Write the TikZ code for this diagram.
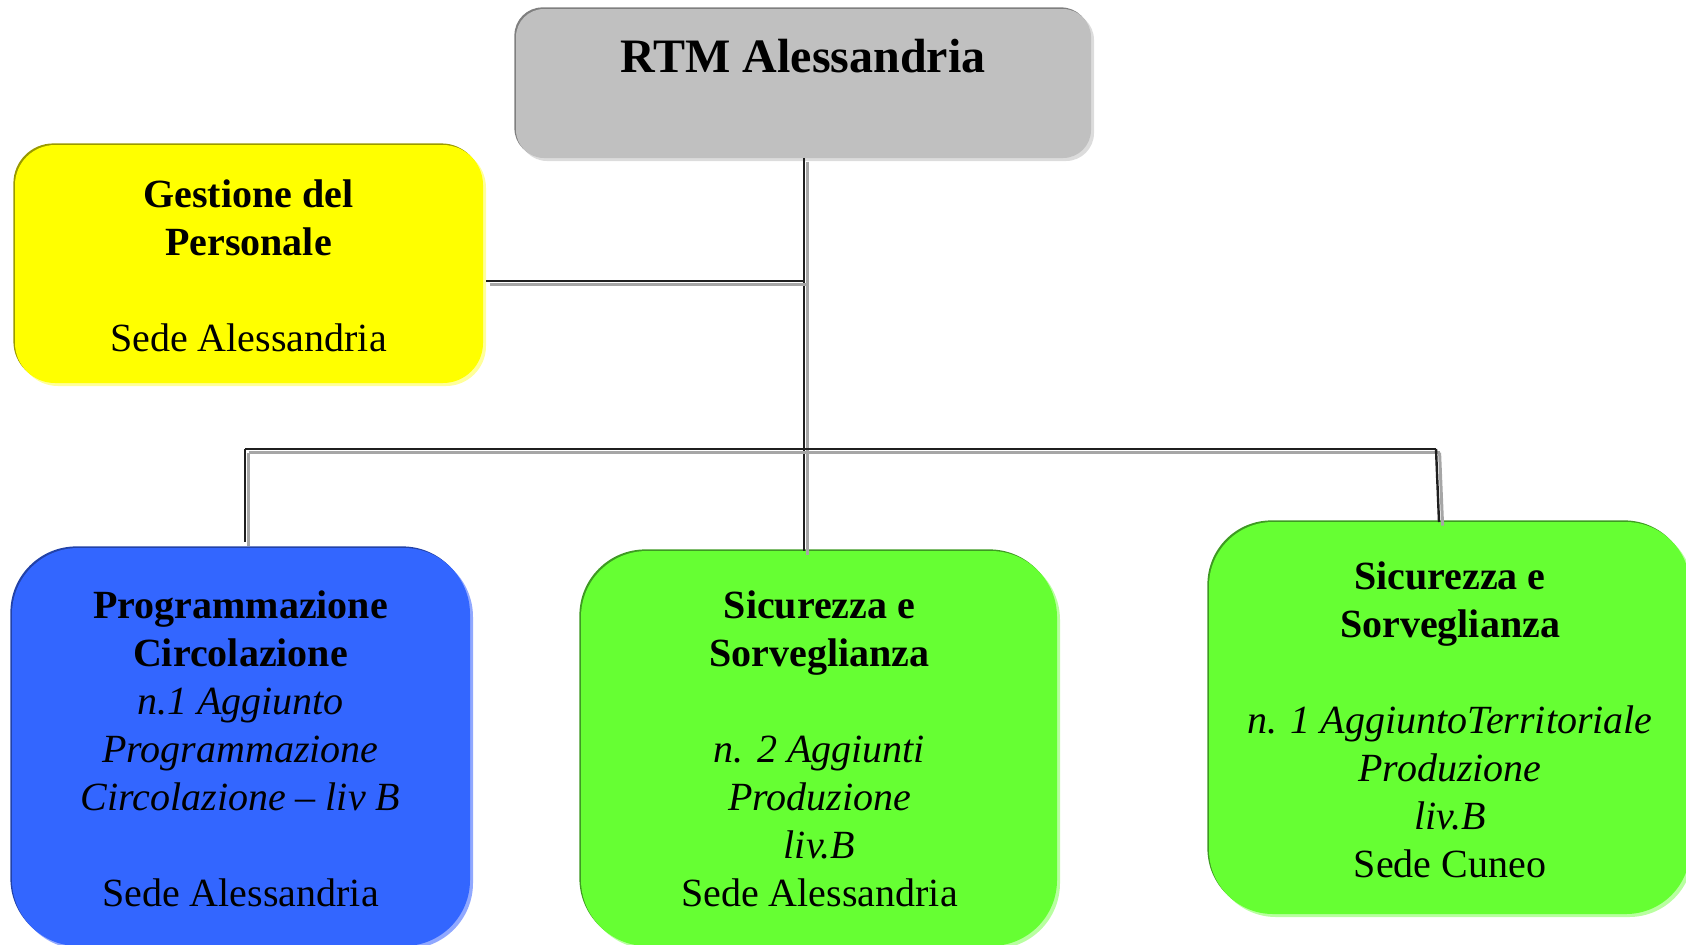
\documentclass[tikz,border=0pt]{standalone}
\usepackage{fontspec}
\setmainfont{Liberation Serif}
\usetikzlibrary{shadows}

\definecolor{rtmfill}{HTML}{C0C0C0}
\definecolor{rtmdark}{HTML}{7F7F7F}
\definecolor{rtmlight}{HTML}{DCDCDC}
\definecolor{yelfill}{HTML}{FFFF00}
\definecolor{yeldark}{HTML}{9A9A00}
\definecolor{yellight}{HTML}{FFFF9A}
\definecolor{blufill}{HTML}{3366FF}
\definecolor{bludark}{HTML}{2242A8}
\definecolor{blulight}{HTML}{90A8FF}
\definecolor{grnfill}{HTML}{66FF33}
\definecolor{grndark}{HTML}{3E9A22}
\definecolor{grnlight}{HTML}{B8FFA0}

\tikzset{
  orgbox/.style={rectangle, inner sep=0pt, outer sep=0pt, draw=none},
  bevel/.style 2 args={
    general shadow={fill=#2, shadow xshift=1.5pt, shadow yshift=-1.5pt},
    general shadow={fill=#1, shadow xshift=-0.8pt, shadow yshift=0.8pt}},
  boxtext/.style={anchor=base, inner sep=0pt, outer sep=0pt,
    font=\fontsize{20}{24}\selectfont},
  conn/.style={line width=1.2pt, draw=black!88,
    preaction={draw=gray!70, line width=1.5pt,
      transform canvas={shift={(1.8pt,-1.8pt)}}}},
}

\newcommand{\boxlines}[1]{\parbox[t]{240pt}{\centering #1}}

\begin{document}
\begin{tikzpicture}[x=0.5pt, y=-0.5pt]
  \useasboundingbox (0,0) rectangle (1686,944);
  \clip (0,0) rectangle (1686,944);

  % boxes
  \node[orgbox, bevel={rtmdark}{rtmlight}, fill=rtmfill, rounded corners=14pt,
        minimum width=287.5pt, minimum height=74.5pt] (rtm) at (803.5,83.5) {};
  \node[orgbox, bevel={yeldark}{yellight}, fill=yelfill, rounded corners=20pt,
        minimum width=234pt, minimum height=119pt] (gp) at (249,264) {};
  \node[orgbox, bevel={bludark}{blulight}, fill=blufill, rounded corners=33pt,
        minimum width=229pt, minimum height=199pt] (pc) at (241,747) {};
  \node[orgbox, bevel={grndark}{grnlight}, fill=grnfill, rounded corners=33pt,
        minimum width=238pt, minimum height=197.5pt] (ssa) at (819,748.5) {};
  \node[orgbox, bevel={grndark}{grnlight}, fill=grnfill, rounded corners=32pt,
        minimum width=240.5pt, minimum height=196pt] (ssc) at (1449.5,718) {};

  % texts
  \node[anchor=base, inner sep=0pt, font=\fontsize{24}{28}\selectfont\bfseries]
        (rtm-t) at (803,72) {RTM Alessandria};
  \node[boxtext] (gp-t) at (248.5,207) {\boxlines{%
        \textbf{Gestione del}\\ \textbf{Personale}\\[24pt]
        Sede Alessandria}};
  \node[boxtext] (pc-t) at (240.5,618) {\boxlines{%
        \textbf{Programmazione}\\ \textbf{Circolazione}\\
        \textit{n.1 Aggiunto}\\ \textit{Programmazione}\\
        \textit{Circolazione -- liv B}\\[24pt]
        Sede Alessandria}};
  \node[boxtext] (ssa-t) at (819.5,618) {\boxlines{%
        \textbf{Sicurezza e}\\ \textbf{Sorveglianza}\\[24pt]
        \textit{n. 2 Aggiunti}\\ \textit{Produzione}\\ \textit{liv.B}\\
        Sede Alessandria}};
  \node[boxtext] (ssc-t) at (1450,589) {\boxlines{%
        \textbf{Sicurezza e}\\ \textbf{Sorveglianza}\\[24pt]
        \textit{n. 1 AggiuntoTerritoriale}\\ \textit{Produzione}\\ \textit{liv.B}\\
        Sede Cuneo}};

  % junction points of the connectors
  \coordinate (trunk) at (804,0);
  \coordinate (gpj) at (804,281);
  \coordinate (busL) at (245,449);
  \coordinate (busR) at (1436,449);

  % connectors
  \draw[conn] (rtm.south -| trunk) -- (ssa.north -| trunk);
  \draw[conn, shorten <=1.5pt] (gp.east |- gpj) -- (gpj);
  \draw[conn] (busL) -- (busR);
  \draw[conn, shorten >=3pt] (busL) -- (pc.north -| busL);
  \draw[conn] (busR) -- ([xshift=1.5pt]ssc.north -| busR);
\end{tikzpicture}
\end{document}
